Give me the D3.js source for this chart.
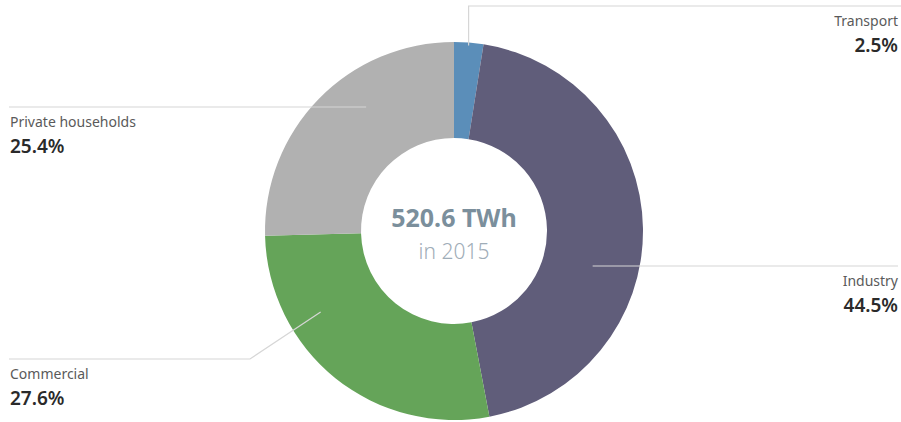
<!DOCTYPE html>
<html>
<head>
<meta charset="utf-8">
<script src="https://cdn.jsdelivr.net/npm/d3@7"></script>
<style>
  body { margin: 0; background: #fff; }
  text { font-family: "Noto Sans", "Open Sans", sans-serif; }
</style>
</head>
<body>
<svg width="901" height="422"></svg>
<script>
const { select, pie, arc } = d3;

// data
const sectors = ['Transport', 'Industry', 'Commercial', 'Private households'];
const shares = [2.5, 44.5, 27.6, 25.4];
const colors = ['#5b8eb9', '#605d7a', '#65a459', '#b1b1b1'];
const totalLabel = '520.6 TWh';
const yearLabel = 'in 2015';

// label layout: where the label line runs and where it meets the slice
// t = position along the slice angle (0..1), r = radius of the anchor point
const leaders = [
    { side: 'right', lineY: 6, t: 0.5, r: 186, vertical: true },
    { side: 'right', lineY: 266, t: 0.59, r: 143 },
    { side: 'left', lineY: 359, t: 0.7, r: 156, elbowX: 250 },
    { side: 'left', lineY: 107, t: 0.61, r: 152 },
];

const svg = select('svg');
const width = +svg.attr('width');
const cx = 454;
const cy = 231;
const outerR = 189;
const innerR = 93;

const pieGen = pie().sort(null).value((d) => d);
const arcs = pieGen(shares);
const arcGen = arc().innerRadius(innerR).outerRadius(outerR);

const g = svg.append('g').attr('transform', `translate(${cx},${cy})`);

// Slices
g.selectAll('path.slice')
    .data(arcs)
    .join('path')
    .attr('class', 'slice')
    .attr('d', arcGen)
    .attr('fill', (d, i) => colors[i]);

const point = (a, r) => [r * Math.sin(a), -r * Math.cos(a)];

// Leader lines + labels
leaders.forEach((L, i) => {
    const a = arcs[i];
    const ang = a.startAngle + L.t * (a.endAngle - a.startAngle);
    let pts;
    if (L.vertical) {
        const [x0, y0] = point(ang, L.r);
        pts = [[x0, y0], [x0, L.lineY - cy], [width - cx, L.lineY - cy]];
    } else if (L.elbowX !== undefined) {
        const [x0, y0] = point(ang, L.r);
        pts = [[x0, y0], [L.elbowX - cx, L.lineY - cy], [9 - cx, L.lineY - cy]];
    } else {
        // anchor on ring radius at the line's height
        const dy = L.lineY - cy;
        const dx = Math.sqrt(L.r * L.r - dy * dy) * (L.side === 'right' ? 1 : -1);
        const endX = L.side === 'right' ? 898 - cx : 9 - cx;
        pts = [[dx, dy], [endX, dy]];
    }
    g.append('path')
        .attr('d', d3.line()(pts))
        .attr('fill', 'none')
        .attr('stroke', '#d6d6d6')
        .attr('stroke-width', 1.2);

    const tx = L.side === 'right' ? 898 : 10;
    const anchor = L.side === 'right' ? 'end' : 'start';
    svg.append('text')
        .attr('x', tx)
        .attr('y', L.lineY + 20)
        .attr('text-anchor', anchor)
        .attr('font-size', 14)
        .attr('fill', '#5a5a5a')
        .text(sectors[i]);
    svg.append('text')
        .attr('x', tx)
        .attr('y', L.lineY + 46)
        .attr('text-anchor', anchor)
        .attr('font-size', 19)
        .attr('font-weight', 600)
        .attr('fill', '#2a2a2a')
        .text(shares[i].toFixed(1) + '%');
});

// Center text
g.append('text')
    .attr('y', -4)
    .attr('text-anchor', 'middle')
    .attr('font-size', 25)
    .attr('font-weight', 700)
    .attr('fill', '#7b8f9c')
    .text(totalLabel);
g.append('text')
    .attr('y', 28)
    .attr('text-anchor', 'middle')
    .attr('font-size', 21)
    .attr('font-weight', 300)
    .attr('fill', '#9fadb8')
    .text(yearLabel);
</script>
</body>
</html>
